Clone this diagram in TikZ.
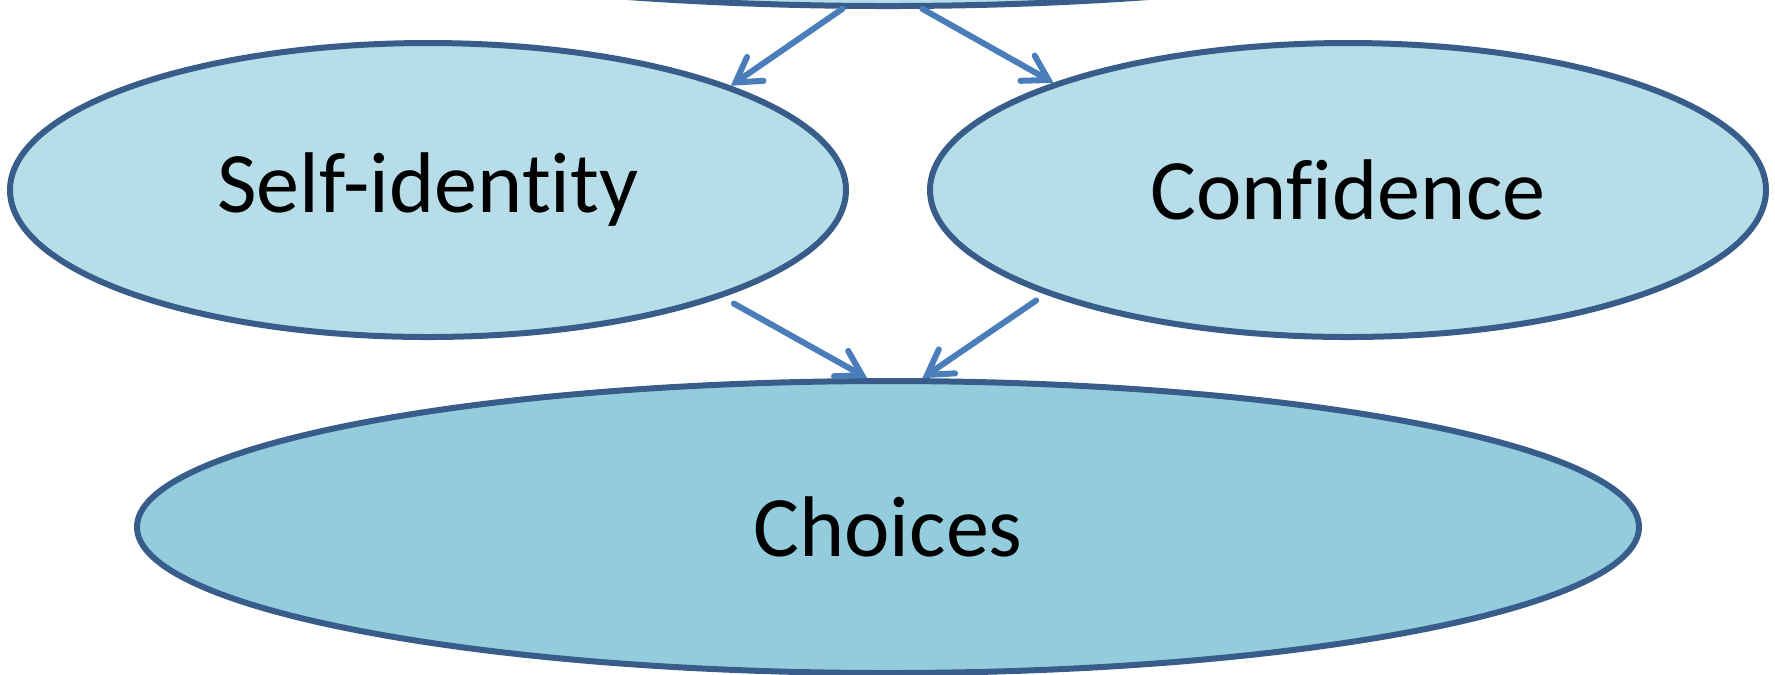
\documentclass[tikz,border=0pt]{standalone}
\usepackage{fontspec}
\setmainfont{Carlito}[Ligatures=NoCommon]
\usetikzlibrary{shapes.geometric, arrows.meta}
\definecolor{rim}{HTML}{385D8A}
\definecolor{linkblue}{HTML}{4A7EBB}
\definecolor{paleblue}{HTML}{B7DEE8}
\definecolor{deepblue}{HTML}{93CDDD}
\tikzset{factor/.style={ellipse,draw=rim,line width=0.6mm,fill=paleblue,minimum width=83.6mm,minimum height=29.4mm,inner sep=0pt,font=\fontsize{24.5}{28}\selectfont},
         outcome/.style={factor,fill=deepblue,minimum width=150.2mm,minimum height=29.2mm},
         link/.style={draw=linkblue,line width=0.6mm,line cap=round,-{Straight Barb[length=2.4mm,width=2.9mm,line cap=round]}},
        }

\begin{document}
\begin{tikzpicture}
        \useasboundingbox(0,0)rectangle(17.75,-6.74);
        \node[factor,minimum width=150.2mm,minimum height=29.2mm](source)at(8.88,1.40){};
        \node[factor](self)at(4.28,-1.90){Self-identity};
        \node[factor](conf)at(13.48,-1.90){Confidence};
        \node[outcome](choices)at(8.88,-5.27){Choices};
        \draw[link](source.-107)--(self.19);
        \draw[link](source.-77)--(conf.160);
        \draw[link,shorten <=1.3mm](self.-20)--(choices.98);
        \draw[link,shorten <=1.1mm](conf.-161)--(choices.77);
    \end{tikzpicture}
\end{document}
